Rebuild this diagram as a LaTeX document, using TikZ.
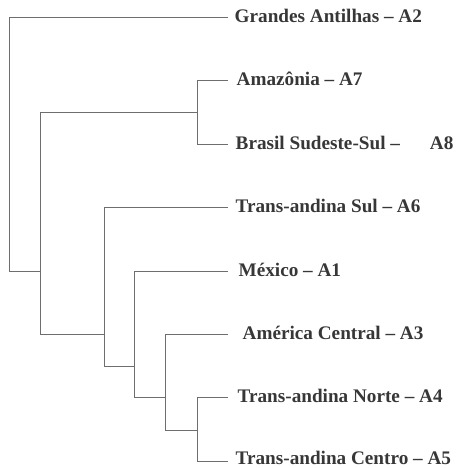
\documentclass[tikz,border=0pt]{standalone}
\usepackage{fontspec}
\setmainfont{Liberation Serif}
\definecolor{branch}{RGB}{110,110,110}
\definecolor{labeltext}{RGB}{55,55,55}
\begin{document}
\begin{tikzpicture}[x=1pt,y=-1pt,
  branchline/.style={draw=branch,line width=1pt},
  leaf/.style={anchor=west,inner ysep=0pt,text height=10pt,text depth=0pt,
    text=labeltext,font=\fontsize{19.2}{22}\selectfont\bfseries}]
\useasboundingbox (0,0) rectangle (457,468);
% leaf labels (west anchor = end of branch)
\node[leaf,inner xsep=7pt]  (A2) at (227.5,17.5)  {Grandes Antilhas – A2};
\node[leaf,inner xsep=9pt]  (A7) at (227.5,81)    {Amazônia – A7};
\node[leaf,inner xsep=8pt]  (A8) at (227.5,144.5) {Brasil Sudeste-Sul –\hspace{30pt}A8};
\node[leaf,inner xsep=8pt]  (A6) at (227.5,207)   {Trans-andina Sul – A6};
\node[leaf,inner xsep=11pt] (A1) at (227.5,271.5) {México – A1};
\node[leaf,inner xsep=15pt] (A3) at (227.5,334.5) {América Central – A3};
\node[leaf,inner xsep=10pt] (A4) at (227.5,397.5) {Trans-andina Norte – A4};
\node[leaf,inner xsep=8pt,text height=6pt] (A5) at (227.5,461.5) {Trans-andina Centro – A5};
% internal nodes
\coordinate (root) at (9.5,271.5);
\coordinate (n1) at (40.7,271.5);
\coordinate (n2) at (197,113);
\coordinate (n3) at (104,334.5);
\coordinate (n4) at (134,366);
\coordinate (n5) at (165,397.5);
\coordinate (n6) at (197,430);
% branches
\draw[branchline] (A2.west) -| (root);
\draw[branchline] (n1) -| (root);
\draw[branchline] (n2) -| (n1);
\draw[branchline] (n3) -| (n1);
\draw[branchline] (A7.west) -| (n2);
\draw[branchline] (A8.west) -| (n2);
\draw[branchline] (A6.west) -| (n3);
\draw[branchline] (n4) -| (n3);
\draw[branchline] (A1.west) -| (n4);
\draw[branchline] (n5) -| (n4);
\draw[branchline] (A3.west) -| (n5);
\draw[branchline] (n6) -| (n5);
\draw[branchline] (A4.west) -| (n6);
\draw[branchline] (A5.west) -| (n6);
\end{tikzpicture}
\end{document}
